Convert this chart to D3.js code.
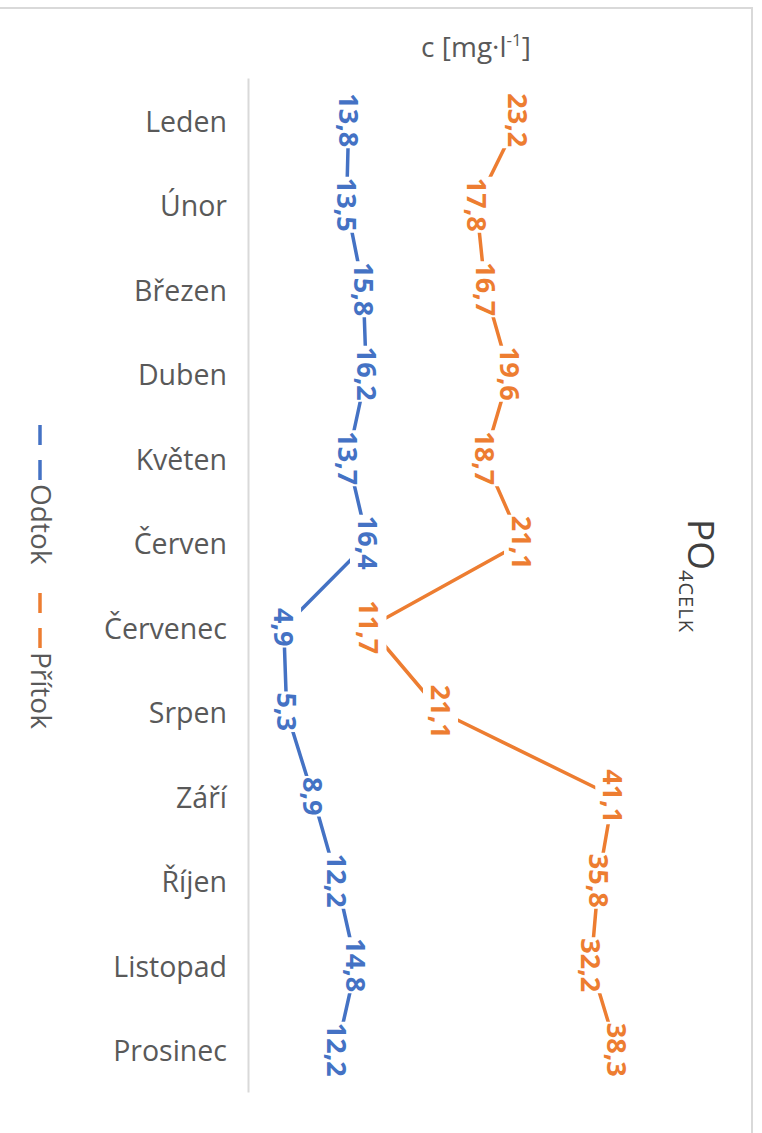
<!DOCTYPE html>
<html>
<head>
<meta charset="utf-8">
<script src="https://cdn.jsdelivr.net/npm/d3@7"></script>
<style>
  body { margin: 0; background: #fff; }
  svg { display: block; font-family: "Open Sans", "Noto Sans", sans-serif; }
</style>
</head>
<body>
<div id="chart"></div>
<script>
// data (stacked line chart, rotated 90 degrees)
var months = ["Leden", "Únor", "Březen", "Duben", "Květen", "Červen",
              "Červenec", "Srpen", "Září", "Říjen", "Listopad", "Prosinec"];
var seriesNames = ["Odtok", "Přítok"];
var odtok  = [13.8, 13.5, 15.8, 16.2, 13.7, 16.4, 4.9, 5.3, 8.9, 12.2, 14.8, 12.2];
var pritok = [23.2, 17.8, 16.7, 19.6, 18.7, 21.1, 11.7, 21.1, 41.1, 35.8, 32.2, 38.3];
var valueDomain = [0, 60];

var W = 762, H = 1133;
var colors = ["#4472C4", "#ED7D31"];
var fmt = d3.formatLocale({decimal: ",", thousands: " ", grouping: [3], currency: ["", ""]}).format(".1f");

var svg = d3.select("#chart").append("svg")
    .attr("width", W)
    .attr("height", H);

// chart area border (only top and right edges show)
svg.append("rect")
    .attr("x", -10).attr("y", 8)
    .attr("width", 762).attr("height", H + 20)
    .attr("fill", "none")
    .attr("stroke", "#d9d9d9")
    .attr("stroke-width", 2);

// scales: categories run down, values run right
var yScale = d3.scaleBand().domain(months).range([78, 1092]);
var xScale = d3.scaleLinear().domain(valueDomain).range([248, 686]);
var yMid = function(m) { return yScale(m) + yScale.bandwidth() / 2; };

// stacked values
var rows = months.map(function(m, i) { return {month: m, Odtok: odtok[i], "Přítok": pritok[i]}; });
var stacked = d3.stack().keys(seriesNames)(rows);

// category axis
var yAxis = d3.axisLeft(yScale).tickSize(0).tickSizeOuter(0).tickPadding(21);
var ax = svg.append("g")
    .attr("class", "y_axis")
    .attr("transform", "translate(" + xScale(0) + ",0)")
    .call(yAxis);
ax.select(".domain").attr("stroke", "#d9d9d9").attr("stroke-width", 2);
ax.selectAll("text")
    .attr("font-size", 28.5)
    .attr("dy", "0.4em")
    .attr("fill", "#595959")
    .attr("font-family", "'Open Sans', sans-serif");

// lines
var line = d3.line()
    .x(function(d) { return xScale(d[1]); })
    .y(function(d) { return yMid(d.data.month); });

svg.selectAll(".series")
    .data(stacked)
  .enter().append("path")
    .attr("class", "series")
    .attr("d", line)
    .attr("fill", "none")
    .attr("stroke", function(d, i) { return colors[i]; })
    .attr("stroke-width", 3.5)
    .attr("stroke-linejoin", "round");

// data labels with white boxes, rotated
stacked.forEach(function(s, si) {
  var raw = si === 0 ? odtok : pritok;
  s.forEach(function(d, i) {
    var g = svg.append("g")
        .attr("transform", "translate(" + xScale(d[1]) + "," + yMid(d.data.month) + ") rotate(90)");
    var t = g.append("text")
        .attr("text-anchor", "middle")
        .attr("dy", "0.36em")
        .attr("font-size", 27)
        .attr("font-weight", 700)
        .attr("fill", colors[si])
        .text(fmt(raw[i]));
    var bb = t.node().getBBox();
    g.insert("rect", "text")
        .attr("x", bb.x - 1).attr("y", bb.y + 2)
        .attr("width", bb.width + 2).attr("height", bb.height - 2)
        .attr("fill", "#fff");
  });
});

// value axis title
var vt = svg.append("text")
    .attr("x", 476).attr("y", 57)
    .attr("text-anchor", "middle")
    .attr("font-size", 28)
    .attr("fill", "#595959");
vt.append("tspan").text("c [mg·l");
vt.append("tspan").attr("font-size", 17).attr("dy", -11).text("-1");
vt.append("tspan").attr("dy", 11).text("]");

// chart title PO4CELK, rotated
var tt = svg.append("text")
    .attr("transform", "translate(688,519) rotate(90)")
    .attr("font-size", 37)
    .attr("fill", "#404040");
tt.append("tspan").text("PO");
tt.append("tspan").attr("font-size", 20).attr("dy", 9).attr("letter-spacing", 1).text("4CELK");

// legend, rotated
var legendPos = [425, 593];
seriesNames.forEach(function(name, i) {
  var y0 = legendPos[i];
  var lg = svg.append("g").attr("class", "legend");
  [[0, 20], [35, 55]].forEach(function(seg) {
    lg.append("line")
        .attr("x1", 40).attr("x2", 40)
        .attr("y1", y0 + seg[0]).attr("y2", y0 + seg[1])
        .attr("stroke", colors[i])
        .attr("stroke-width", 3.5);
  });
  lg.append("text")
      .attr("transform", "translate(31," + (y0 + 59) + ") rotate(90)")
      .attr("font-size", 28)
      .attr("fill", "#595959")
      .text(name);
});
</script>
</body>
</html>
